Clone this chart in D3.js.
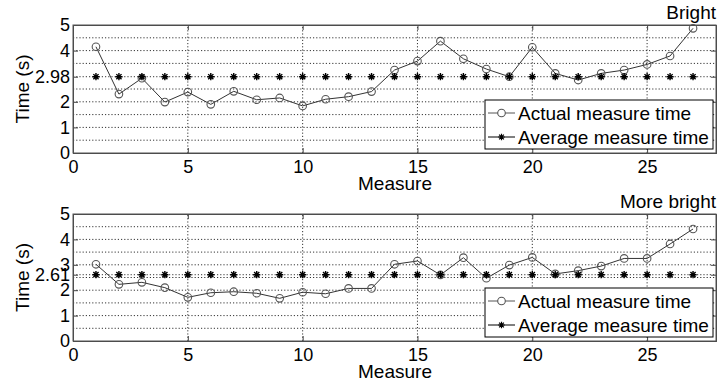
<!DOCTYPE html>
<html>
<head>
<meta charset="utf-8">
<script src="https://cdn.jsdelivr.net/npm/d3@7"></script>
<style>
  body { margin: 0; background: #fff; }
  svg text { font-family: "Liberation Sans", Arial, sans-serif; fill: #000; }
</style>
</head>
<body>
<div id="chart"></div>
<script>
// Measures (x values)
const measures = [1, 2, 3, 4, 5, 6, 7, 8, 9, 10, 11, 12, 13, 14, 15, 16, 17, 18, 19, 20, 21, 22, 23, 24, 25, 26, 27];

// Actual measure times
const brightTimes = [4.15, 2.30, 2.92, 1.99, 2.38, 1.90, 2.41, 2.08, 2.15, 1.84, 2.10, 2.20, 2.40, 3.24,
  3.59, 4.37, 3.68, 3.28, 2.98, 4.13, 3.11, 2.85, 3.11, 3.24, 3.46, 3.79, 4.87];
const moreBrightTimes = [3.02, 2.23, 2.31, 2.10, 1.72, 1.90, 1.94, 1.88, 1.68, 1.92, 1.86, 2.07, 2.07, 3.02,
  3.15, 2.60, 3.28, 2.47, 2.99, 3.29, 2.64, 2.77, 2.95, 3.25, 3.25, 3.82, 4.41];

// Average measure times
const brightAvg = 2.98;
const moreBrightAvg = 2.61;

// Tick labels and grid levels
const xTicks = [0, 5, 10, 15, 20, 25];
const yTicksBright = [0, 1, 2, 2.98, 4, 5];
const yTicksMoreBright = [0, 1, 2, 2.61, 3, 4, 5];
const yGridBright = [0.5, 1, 1.5, 2, 2.5, 2.98, 3.5, 4, 4.5];
const yGridMoreBright = [0.5, 1, 1.5, 2, 2.5, 2.61, 3, 3.5, 4, 4.5];

const seriesNames = ['Actual measure time', 'Average measure time'];

const width = 717;
const height = 385;

const svg = d3.select('#chart')
  .append('svg')
  .attr('width', width)
  .attr('height', height);

// asterisk marker like matlab '*'
function starPath(s) {
  const d = s * 0.72;
  return `M${-s},0L${s},0M0,${-s}L0,${s}M${-d},${-d}L${d},${d}M${-d},${d}L${d},${-d}`;
}

function drawPanel(top, bottom, times, avg, yTicks, yGrid, title) {
  const x = d3.scaleLinear().domain([0, 28]).range([73, 716]);
  const y = d3.scaleLinear().domain([0, 5]).range([bottom, top]);

  const g = svg.append('g');

  // grid
  g.selectAll('.hgrid')
    .data(yGrid)
    .enter()
    .append('line')
    .attr('x1', x(0)).attr('x2', x(28))
    .attr('y1', d => y(d)).attr('y2', d => y(d))
    .attr('stroke', '#000')
    .attr('stroke-width', 0.8)
    .attr('stroke-dasharray', '1.2,2');

  g.selectAll('.vgrid')
    .data(xTicks.slice(1))
    .enter()
    .append('line')
    .attr('x1', d => x(d)).attr('x2', d => x(d))
    .attr('y1', y(0)).attr('y2', y(5))
    .attr('stroke', '#000')
    .attr('stroke-width', 0.8)
    .attr('stroke-dasharray', '1.2,2');

  // axes with inward ticks
  const xAxis = d3.axisBottom(x).tickValues(xTicks).tickSize(-5).tickPadding(7);
  const gx = g.append('g').attr('transform', `translate(0,${bottom})`).call(xAxis);
  const yAxis = d3.axisLeft(y).tickValues(yTicks).tickSize(-5).tickPadding(3).tickFormat(d => d);
  const gy = g.append('g').attr('transform', 'translate(73,0)').call(yAxis);
  g.append('g').attr('transform', `translate(0,${top})`)
    .call(d3.axisTop(x).tickValues(xTicks).tickSize(-5).tickFormat(''));
  g.append('g').attr('transform', 'translate(716,0)')
    .call(d3.axisRight(y).tickValues(yTicks).tickSize(-5).tickFormat(''));

  g.selectAll('.domain').attr('stroke', '#444');
  g.selectAll('.tick line').attr('stroke', '#444');
  gx.selectAll('text').style('font-size', '18px').attr('dy', '0.71em');
  gy.selectAll('text').style('font-size', '18px');

  // axis box
  g.append('rect')
    .attr('x', x(0)).attr('y', top)
    .attr('width', x(28) - x(0)).attr('height', bottom - top)
    .attr('fill', 'none')
    .attr('stroke', '#555')
    .attr('stroke-width', 1);

  // actual line
  const line = d3.line().x((d, i) => x(measures[i])).y(d => y(d));
  g.append('path')
    .datum(times)
    .attr('d', line)
    .attr('fill', 'none')
    .attr('stroke', '#333')
    .attr('stroke-width', 1);

  g.selectAll('.pt')
    .data(times)
    .enter()
    .append('circle')
    .attr('cx', (d, i) => x(measures[i]))
    .attr('cy', d => y(d))
    .attr('r', 3.8)
    .attr('fill', 'none')
    .attr('stroke', '#555')
    .attr('stroke-width', 1.1);

  // average stars
  g.selectAll('.star')
    .data(measures)
    .enter()
    .append('path')
    .attr('d', starPath(3.6))
    .attr('transform', d => `translate(${x(d)},${y(avg)})`)
    .attr('stroke', '#000')
    .attr('stroke-width', 1.4);

  // labels
  g.append('text')
    .attr('x', 395).attr('y', bottom + 37)
    .attr('text-anchor', 'middle')
    .style('font-size', '19px')
    .text('Measure');

  g.append('text')
    .attr('transform', `translate(29,${(top + bottom) / 2}) rotate(-90)`)
    .attr('text-anchor', 'middle')
    .style('font-size', '19px')
    .text('Time (s)');

  g.append('text')
    .attr('x', 716).attr('y', top - 6)
    .attr('text-anchor', 'end')
    .style('font-size', '19px')
    .text(title);

  // legend
  const lx = 485, ly = bottom - 53, lw = 228, lh = 49;
  const leg = g.append('g');
  leg.append('rect')
    .attr('x', lx).attr('y', ly)
    .attr('width', lw).attr('height', lh)
    .attr('fill', '#fff')
    .attr('stroke', '#000')
    .attr('stroke-width', 1);

  seriesNames.forEach((name, i) => {
    const cy = ly + 13 + i * 24;
    leg.append('line')
      .attr('x1', lx + 3).attr('x2', lx + 30)
      .attr('y1', cy).attr('y2', cy)
      .attr('stroke', i === 0 ? '#555' : '#000')
      .attr('stroke-width', 1);
    if (i === 0) {
      leg.append('circle')
        .attr('cx', lx + 16.5).attr('cy', cy).attr('r', 3.8)
        .attr('fill', '#fff').attr('stroke', '#555').attr('stroke-width', 1.1);
    } else {
      leg.append('path')
        .attr('d', starPath(3.3))
        .attr('transform', `translate(${lx + 16.5},${cy})`)
        .attr('stroke', '#000').attr('stroke-width', 1.2);
    }
    leg.append('text')
      .attr('x', lx + 33).attr('y', cy)
      .attr('dy', '0.35em')
      .style('font-size', '19px')
      .text(name);
  });
}

drawPanel(25, 153, brightTimes, brightAvg, yTicksBright, yGridBright, 'Bright');
drawPanel(214, 341, moreBrightTimes, moreBrightAvg, yTicksMoreBright, yGridMoreBright, 'More bright');
</script>
</body>
</html>
